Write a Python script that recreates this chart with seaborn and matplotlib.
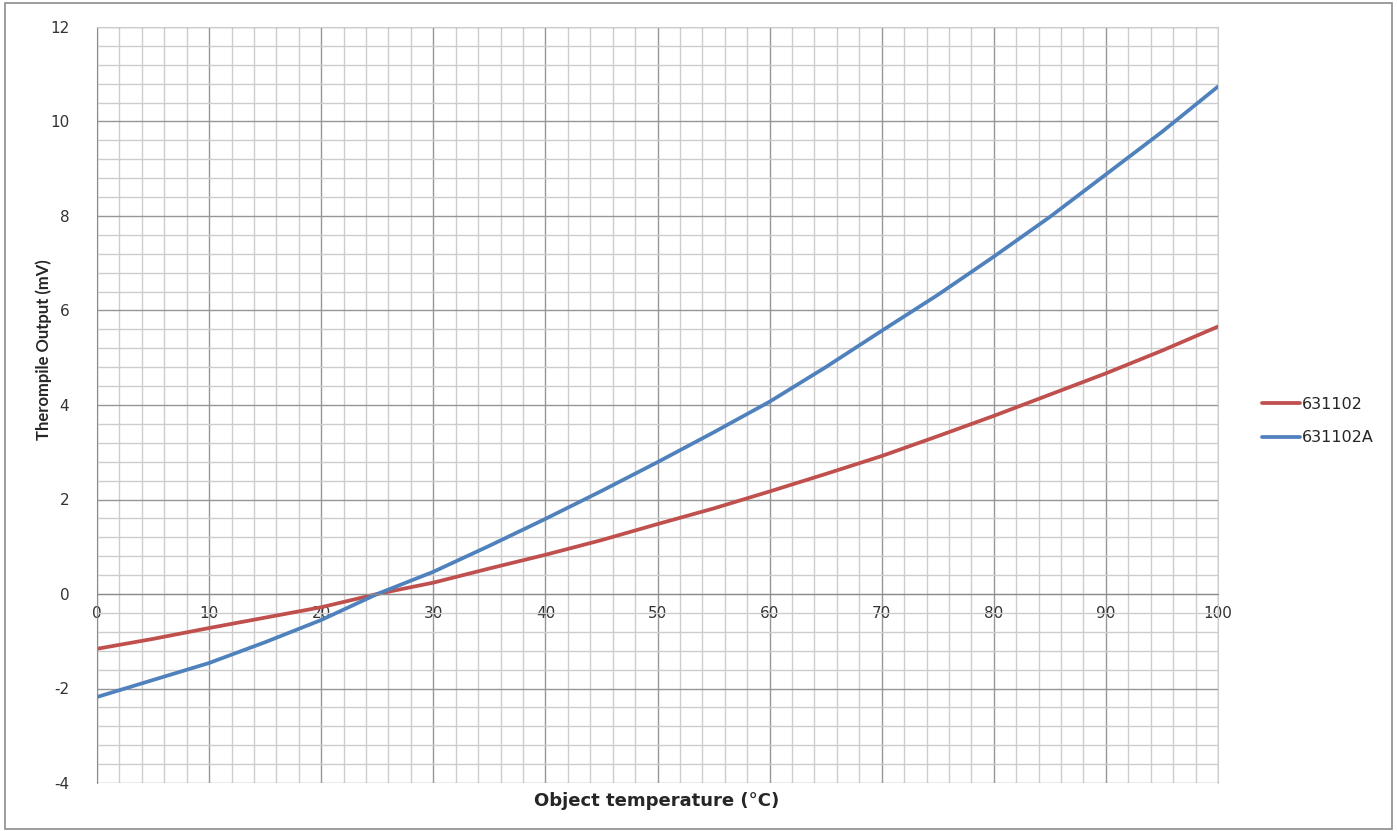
import matplotlib
matplotlib.use("Agg")
import matplotlib.pyplot as plt
from matplotlib.patches import Rectangle
from matplotlib.ticker import MultipleLocator
import pandas as pd
import seaborn as sns

# readings (every 5 degC)
temps = [0, 5, 10, 15, 20, 25, 30, 35, 40, 45, 50,
         55, 60, 65, 70, 75, 80, 85, 90, 95, 100]
out_631102 = [-1.16, -0.95, -0.72, -0.50, -0.28, 0.00, 0.24, 0.54, 0.83, 1.14, 1.48,
              1.81, 2.17, 2.54, 2.92, 3.34, 3.77, 4.22, 4.67, 5.15, 5.66]
out_631102A = [-2.18, -1.82, -1.46, -1.02, -0.55, 0.00, 0.47, 1.02, 1.59, 2.18, 2.79,
               3.42, 4.07, 4.80, 5.57, 6.33, 7.14, 7.98, 8.88, 9.78, 10.74]
series_names = ["631102", "631102A"]
colors = ["#C0504D", "#4F81BD"]

df = pd.DataFrame({
    "temp": temps * 2,
    "mv": out_631102 + out_631102A,
    "sensor": [series_names[0]] * len(temps) + [series_names[1]] * len(temps),
})

sns.set_style("white")
plt.rcParams["font.family"] = ["DejaVu Sans"]
plt.rcParams["axes.unicode_minus"] = False

fig = plt.figure(figsize=(13.97, 8.31), dpi=100)
ax = fig.add_axes([97 / 1397, 1 - 783 / 831, (1218 - 97) / 1397, (783 - 27) / 831])

# grid first so the curves sit on top
ax.set_xlim(0, 100)
ax.set_ylim(-4, 12)
ax.xaxis.set_major_locator(MultipleLocator(10))
ax.xaxis.set_minor_locator(MultipleLocator(2))
ax.yaxis.set_major_locator(MultipleLocator(2))
ax.yaxis.set_minor_locator(MultipleLocator(0.4))
ax.grid(True, which="minor", color="#cdcdcd", linewidth=1)
ax.grid(True, which="major", color="#969696", linewidth=1)
ax.set_axisbelow(True)

sns.lineplot(data=df, x="temp", y="mv", hue="sensor", palette=colors,
             linewidth=2.7, ax=ax, legend=True)

# excel style axes: x axis crosses at y = 0
for s in ["top", "right"]:
    ax.spines[s].set_color("#cdcdcd")
ax.spines["bottom"].set_position(("data", 0))
ax.spines["bottom"].set_color("#8c8c8c")
ax.spines["left"].set_color("#8c8c8c")

ax.tick_params(axis="x", which="both", length=0, pad=9, labelsize=11, labelcolor="#333333")
ax.tick_params(axis="y", which="major", length=6, width=1, color="#8c8c8c",
               pad=14, labelsize=11, labelcolor="#333333")
ax.tick_params(axis="y", which="minor", length=0)

ax.set_xlabel("")
ax.set_ylabel("")
fig.text(657 / 1397, 1 - 801 / 831, "Object temperature (°C)", ha="center", va="center",
         fontsize=13, fontweight="bold", family="DejaVu Sans")
fig.text(44 / 1397, 1 - 350 / 831, "Therompile Output (mV)", ha="center", va="center",
         rotation=90, fontsize=12, fontweight="bold", family="Lato")

ax.legend(loc="center left", bbox_to_anchor=(1254 / 1397, 1 - 421 / 831),
          bbox_transform=fig.transFigure, frameon=False, fontsize=11.5,
          handlelength=2.4, handletextpad=0.1, labelspacing=1.15, borderpad=0)

# outer chart border
fig.patches.append(Rectangle((5 / 1397, 2 / 831), 1387 / 1397, 826 / 831,
                             transform=fig.transFigure, fill=False,
                             edgecolor="#8c8c8c", linewidth=1.2))

fig.savefig("out.png", dpi=100)
